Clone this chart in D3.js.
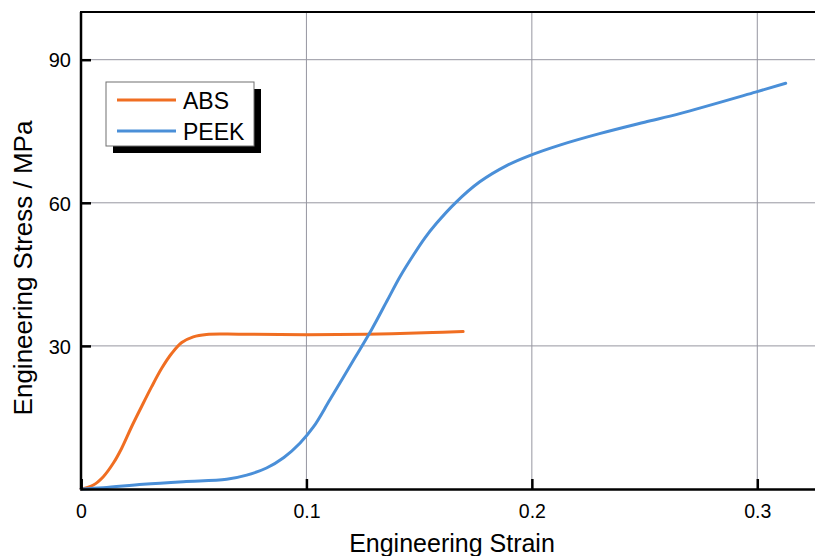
<!DOCTYPE html>
<html>
<head>
<meta charset="utf-8">
<script src="https://cdn.jsdelivr.net/npm/d3@7"></script>
<style>
  html, body { margin: 0; padding: 0; background: #ffffff; }
  svg { display: block; }
  text { font-family: "Liberation Sans", Arial, sans-serif; fill: #000; }
</style>
</head>
<body>
<svg id="chart" width="815" height="556"></svg>
<script>
// Tensile test curves: engineering strain vs engineering stress (MPa)
const absStrain = [0, 0.0055, 0.0099, 0.0143, 0.018, 0.0225, 0.0269, 0.0313, 0.0358, 0.0402, 0.0447, 0.0498, 0.0557, 0.07, 0.1, 0.1267, 0.156, 0.1695];
const absStress = [0, 0.84, 2.58, 5.39, 8.5, 13.1, 17.3, 21.4, 25.3, 28.4, 30.7, 31.9, 32.4, 32.45, 32.35, 32.45, 32.8, 33.0];

const peekStrain = [0, 0.0099, 0.0276, 0.0454, 0.0646, 0.0735, 0.0823, 0.09, 0.0971, 0.1031, 0.1104, 0.1215, 0.129, 0.1356, 0.1415, 0.1474, 0.1525, 0.1577, 0.1661, 0.1769, 0.1888, 0.199, 0.2124, 0.23, 0.25, 0.2656, 0.2992, 0.3126];
const peekStress = [0, 0.27, 0.98, 1.53, 2.03, 2.9, 4.4, 6.6, 9.6, 13.0, 18.7, 27.5, 33.5, 39.3, 44.5, 49.0, 52.6, 55.7, 60.0, 64.4, 67.8, 69.9, 72.1, 74.5, 76.9, 78.7, 83.2, 85.05];

const seriesNames = ["ABS", "PEEK"];
const seriesColors = ["#f06e22", "#4a8fd8"];

const xTicks = [0, 0.1, 0.2, 0.3];
const yTicks = [30, 60, 90];
const xDomain = [0, 0.35];
const yDomain = [0, 100];

const svg = d3.select("#chart");
const plotLeft = 81, plotBottom = 489, plotTop = 12, plotRight = 870;

const x = d3.scaleLinear().domain(xDomain).range([plotLeft, plotRight]);
const y = d3.scaleLinear().domain(yDomain).range([plotBottom, plotTop]);

// grid
const grid = svg.append("g").attr("stroke", "#9696a0").attr("stroke-width", 1);
grid.selectAll("line.gx").data(xTicks.filter(d => d > 0)).join("line")
  .attr("x1", d => x(d)).attr("x2", d => x(d))
  .attr("y1", y(yDomain[1])).attr("y2", y(0));
grid.selectAll("line.gy").data(yTicks).join("line")
  .attr("x1", x(0)).attr("x2", x(xDomain[1]))
  .attr("y1", d => y(d)).attr("y2", d => y(d));

// curves
const line = d3.line().curve(d3.curveCatmullRom.alpha(0.5));
const series = [
  absStrain.map((s, i) => [x(s), y(absStress[i])]),
  peekStrain.map((s, i) => [x(s), y(peekStress[i])])
];
svg.append("g").selectAll("path").data(series).join("path")
  .attr("d", d => line(d))
  .attr("fill", "none")
  .attr("stroke", (d, i) => seriesColors[i])
  .attr("stroke-width", 3)
  .attr("stroke-linejoin", "round")
  .attr("stroke-linecap", "round");

// axes with inward ticks
const xAxis = d3.axisBottom(x).tickValues(xTicks).tickSize(-10).tickPadding(18)
  .tickFormat(d => d === 0 ? "0" : d3.format(".1f")(d));
const gx = svg.append("g").attr("transform", `translate(0,${plotBottom})`).call(xAxis);
gx.select(".domain").attr("stroke", "#000").attr("stroke-width", 2.5);
gx.selectAll(".tick line").attr("stroke", "#000").attr("stroke-width", 2.5);
gx.selectAll(".tick text").style("font-size", "19.5px").attr("dy", "0.71em").attr("y", 15);

const yAxis = d3.axisLeft(y).tickValues(yTicks).tickSize(-10).tickPadding(10)
  .tickFormat(d3.format("d"));
const gy = svg.append("g").attr("transform", `translate(${plotLeft},0)`).call(yAxis);
gy.select(".domain").attr("stroke", "#000").attr("stroke-width", 2.5)
  .attr("d", `M0,${plotTop}V${plotBottom}`);
gy.selectAll(".tick line").attr("stroke", "#000").attr("stroke-width", 2.5);
gy.selectAll(".tick text").style("font-size", "20px").attr("x", -10).attr("dy", "0.36em");

// top frame line
svg.append("line")
  .attr("x1", x(0) - 1).attr("x2", x(xDomain[1]))
  .attr("y1", y(yDomain[1])).attr("y2", y(yDomain[1]))
  .attr("stroke", "#000").attr("stroke-width", 2);

// axis titles
svg.append("text")
  .attr("x", 452).attr("y", 552)
  .attr("text-anchor", "middle").style("font-size", "25px")
  .text("Engineering Strain");
svg.append("text")
  .attr("transform", "translate(32,268) rotate(-90)")
  .attr("text-anchor", "middle").style("font-size", "26px")
  .text("Engineering Stress / MPa");

// legend with drop shadow
const lg = svg.append("g").attr("transform", "translate(106,82)");
lg.append("rect").attr("x", 7).attr("y", 7).attr("width", 148).attr("height", 64).attr("fill", "#000");
lg.append("rect").attr("x", 0).attr("y", 0).attr("width", 148).attr("height", 64)
  .attr("fill", "#fff").attr("stroke", "#707070").attr("stroke-width", 1);
seriesNames.forEach((name, i) => {
  const yy = 18 + i * 31;
  lg.append("line").attr("x1", 11).attr("x2", 70).attr("y1", yy).attr("y2", yy)
    .attr("stroke", seriesColors[i]).attr("stroke-width", 3);
  lg.append("text").attr("x", 77).attr("y", yy + 8.5).style("font-size", "23px").text(name);
});
</script>
</body>
</html>
